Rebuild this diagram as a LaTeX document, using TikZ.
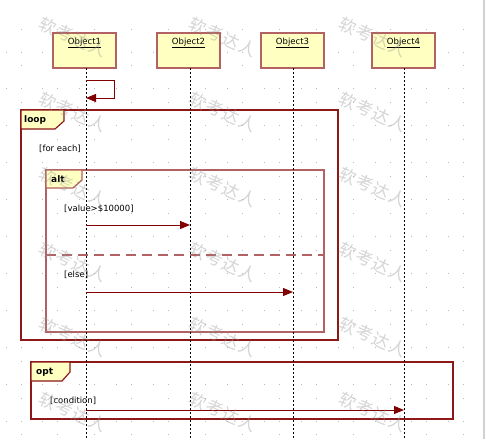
\documentclass[tikz,border=0pt]{standalone}
\usepackage{fontspec}
\setmainfont{DejaVu Sans}
\newfontfamily\cjkfont{Noto Sans CJK SC}
\usetikzlibrary{arrows.meta}
\definecolor{framecol}{RGB}{140,24,24}
\definecolor{softframe}{RGB}{178,98,98}
\definecolor{boxfill}{RGB}{255,255,194}
\definecolor{msgcol}{RGB}{128,0,0}
\definecolor{dotcol}{RGB}{185,185,185}
\definecolor{wmcol}{RGB}{150,150,150}
\begin{document}
\begin{tikzpicture}[x=1pt,y=-1pt,
  objbox/.style={draw=softframe, line width=1.3pt, fill=boxfill, minimum width=63pt, minimum height=35pt, inner sep=0pt},
  objname/.style={font=\fontsize{8.5}{10}\selectfont, anchor=north, inner sep=0pt},
  lifeline/.style={black, line width=0.8pt, dash pattern=on 2pt off 2pt},
  msgline/.style={msgcol, line width=1pt, -{Triangle[length=10pt,width=8pt]}},
  framebox/.style={draw=framecol, line width=1.15pt},
  softbox/.style={draw=softframe, line width=1.3pt},
  tabshape/.style={fill=boxfill, line width=1.15pt},
  tabtext/.style={font=\bfseries\fontsize{9}{10}\selectfont, anchor=west, inner sep=0pt},
  guard/.style={font=\fontsize{8.5}{10}\selectfont, anchor=west, inner sep=0pt},
  wm/.style={font=\cjkfont\fontsize{17}{17}\selectfont, text=wmcol, opacity=0.4, rotate=-24}
]
\useasboundingbox (0,0) rectangle (486,439);
\fill[white] (0,0) rectangle (486,439);
% dot grid
\foreach \j in {0,...,11}{
  \foreach \k in {0,...,12}{
    \fill[dotcol] ({21+36.9*\k-0.5},{52+36.9*\j-0.5}) rectangle ++(1,1);
    \fill[dotcol] ({6+36.9*\k-0.5},{52+36.9*\j-0.5}) rectangle ++(1,1);
    \fill[dotcol] ({21+36.9*\k-0.5},{29+36.9*\j-0.5}) rectangle ++(1,1);
  }
}
% right edge
\fill[black!18] (483,0) rectangle (485,439);

% frames
\draw[framebox] (21,110) rectangle (338,340);
\filldraw[tabshape, draw=framecol] (21,110) -- (64,110) -- (64,121) -- (55,129) -- (21,129) -- cycle;
\node[tabtext] (looplbl) at (24,120) {loop};
\node[guard] (g1) at (39,149) {[for each]};

\draw[softbox] (46,170) rectangle (324,332);
\filldraw[tabshape, draw=softframe, line width=1.3pt] (46,170) -- (82,170) -- (82,180) -- (73,188) -- (46,188) -- cycle;
\node[tabtext] (altlbl) at (51,179.5) {alt};
\node[guard] (g2) at (64,209) {[value>\$10000]};
\draw[softframe, line width=1.2pt, dash pattern=on 10pt off 6pt] (46,255) -- (324,255);
\node[guard] (g3) at (64,275) {[else]};

\draw[framebox] (31,362) rectangle (453,419);
\filldraw[tabshape, draw=framecol] (31,362) -- (70,362) -- (70,372) -- (62,381) -- (31,381) -- cycle;
\node[tabtext] (optlbl) at (36,372) {opt};
\node[guard] (g4) at (50,401) {[condition]};

% objects
\node[objbox] (o1) at (84.5,50.5) {};
\node[objbox] (o2) at (188.5,50.5) {};
\node[objbox] (o3) at (292.5,50.5) {};
\node[objbox] (o4) at (403.5,50.5) {};
\node[objname] (n1) at ([yshift=-5pt]o1.north) {\underline{Object1}};
\node[objname] (n2) at ([yshift=-5pt]o2.north) {\underline{Object2}};
\node[objname] (n3) at ([yshift=-5pt]o3.north) {\underline{Object3}};
\node[objname] (n4) at ([yshift=-5pt]o4.north) {\underline{Object4}};

% lifelines
\coordinate (b1) at (86,439);
\coordinate (b2) at (190,439);
\coordinate (b3) at (293,439);
\coordinate (b4) at (404,439);
\draw[lifeline] (86,68) -- (b1);
\draw[lifeline] (190,68) -- (b2);
\draw[lifeline] (293,68) -- (b3);
\draw[lifeline] (404,68) -- (b4);

% messages
\coordinate (s1) at (86,80);
\coordinate (s2) at (86,98);
\draw[msgline] (s1) -- ++(28,0) |- (s2);
\coordinate (m1a) at (86,225);
\coordinate (m1b) at (190,225);
\draw[msgline] (m1a) -- (m1b);
\coordinate (m2a) at (86,292);
\coordinate (m2b) at (293,292);
\draw[msgline] (m2a) -- (m2b);
\coordinate (m3a) at (86,410);
\coordinate (m3b) at (404,410);
\draw[msgline] (m3a) -- (m3b);

% watermark
\foreach \r in {0,...,5}{
  \foreach \c in {0,1,2}{
    \node[wm] at ({73+150*\c},{37+75*\r}) {软\hspace{1pt}考\hspace{1pt}达\hspace{1pt}人};
  }
}
\end{tikzpicture}
\end{document}
